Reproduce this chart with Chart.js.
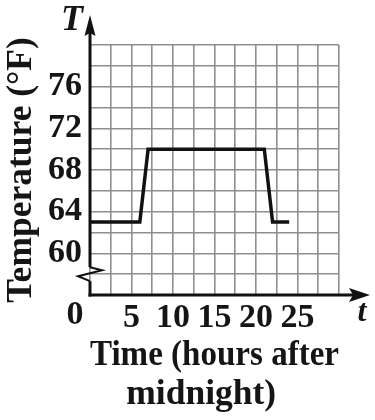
<!DOCTYPE html>
<html>
<head>
<meta charset="utf-8">
<script src="https://cdn.jsdelivr.net/npm/chart.js@4.4.1/dist/chart.umd.min.js"></script>
<style>
  html, body { margin: 0; padding: 0; background: #ffffff; }
  canvas { display: block; }
</style>
</head>
<body>
<canvas id="c" width="375" height="420"></canvas>
<script>
// ---- data ----
const times = [0, 6, 7, 21, 22, 24];          // hours after midnight
const temps = [63, 63, 70, 70, 63, 63];       // °F
const xTickLabels = [5, 10, 15, 20, 25];
const yTickLabels = [60, 64, 68, 72, 76];
const xTitleLines = ['Time (hours after', 'midnight)\u00A0\u00A0\u00A0'];
const yTitle = 'Temperature (°F)';

const FONT = "'Liberation Serif', 'Times New Roman', serif";
const GRID = '#8f8f8f';

const axesPlugin = {
  id: 'axesPlugin',
  afterDraw(chart) {
    const ctx = chart.ctx;
    const xs = chart.scales.x, ys = chart.scales.y;
    const x0 = xs.getPixelForValue(xs.min);
    const y0 = ys.getPixelForValue(ys.min);
    const top = ys.getPixelForValue(ys.max);
    const right = xs.getPixelForValue(xs.max);
    const brk = ys.getPixelForValue(58);
    ctx.save();
    ctx.strokeStyle = '#111';
    ctx.fillStyle = '#111';
    ctx.lineWidth = 3;
    ctx.lineJoin = 'miter';
    // x axis
    ctx.beginPath();
    ctx.moveTo(x0 - 1.5, y0);
    ctx.lineTo(right + 14, y0);
    ctx.stroke();
    // y axis with break
    ctx.beginPath();
    ctx.moveTo(x0, y0 + 1.5);
    ctx.lineTo(x0, brk + 7);
    ctx.stroke();
    ctx.lineWidth = 2;
    ctx.beginPath();
    ctx.moveTo(x0, brk + 7);
    ctx.lineTo(x0 - 12, brk + 2);
    ctx.lineTo(x0 + 12, brk - 4);
    ctx.lineTo(x0, brk - 7);
    ctx.stroke();
    ctx.lineWidth = 3;
    ctx.beginPath();
    ctx.moveTo(x0, brk - 7);
    ctx.lineTo(x0, top - 14);
    ctx.stroke();
    // arrow heads
    ctx.beginPath();
    ctx.moveTo(x0, top - 30);
    ctx.lineTo(x0 + 5.5, top - 9);
    ctx.lineTo(x0, top - 12);
    ctx.lineTo(x0 - 5.5, top - 9);
    ctx.closePath();
    ctx.fill();
    ctx.beginPath();
    ctx.moveTo(right + 31, y0);
    ctx.lineTo(right + 10, y0 - 7);
    ctx.lineTo(right + 14, y0);
    ctx.lineTo(right + 10, y0 + 7);
    ctx.closePath();
    ctx.fill();
    // axis letters and origin label
    ctx.fillStyle = '#151515';
    ctx.textAlign = 'center';
    ctx.textBaseline = 'middle';
    ctx.font = "italic bold 36px " + FONT;
    ctx.fillText('T', x0 - 18, top - 24);
    ctx.font = "italic bold 32px " + FONT;
    ctx.fillText('t', right + 23, y0 + 18);
    ctx.font = "bold 34px " + FONT;
    ctx.fillText('0', x0 - 15, y0 + 20);
    ctx.restore();
  }
};

new Chart(document.getElementById('c'), {
  type: 'line',
  data: {
    datasets: [{
      data: times.map((t, i) => ({ x: t, y: temps[i] })),
      borderColor: '#111',
      borderWidth: 3.5,
      pointRadius: 0,
      tension: 0,
      borderJoinStyle: 'miter',
      fill: false
    }]
  },
  options: {
    responsive: false,
    animation: false,
    devicePixelRatio: 1,
    layout: { padding: { top: 45, right: 36, left: 0, bottom: 0 } },
    plugins: { legend: { display: false }, tooltip: { enabled: false } },
    scales: {
      x: {
        type: 'linear',
        min: 0, max: 30,
        afterFit(s) { s.height = 125; },
        grid: { color: GRID, lineWidth: 1.6, drawTicks: false },
        border: { display: false },
        ticks: {
          stepSize: 2.5, autoSkip: false, maxRotation: 0, padding: 3,
          color: '#151515',
          font: { family: FONT, size: 34, weight: 'bold' },
          callback: v => xTickLabels.includes(v) ? String(v) : ''
        },
        title: {
          display: true, text: xTitleLines, color: '#151515',
          font: { family: FONT, size: 35.5, weight: 'bold', lineHeight: 1.12 },
          padding: { top: 0, bottom: 5 }
        }
      },
      y: {
        type: 'linear',
        min: 56, max: 80,
        afterFit(s) { s.width = 90; },
        grid: { color: GRID, lineWidth: 1.6, drawTicks: false },
        border: { display: false },
        ticks: {
          stepSize: 2, autoSkip: false, padding: 8,
          color: '#151515',
          font: { family: FONT, size: 34, weight: 'bold' },
          callback: v => yTickLabels.includes(v) ? String(v) : ''
        },
        title: {
          display: true, text: yTitle, color: '#151515',
          font: { family: FONT, size: 35.5, weight: 'bold', lineHeight: 1.2 },
          padding: { top: 1, bottom: 0 }
        }
      }
    }
  },
  plugins: [axesPlugin]
});
</script>
</body>
</html>
